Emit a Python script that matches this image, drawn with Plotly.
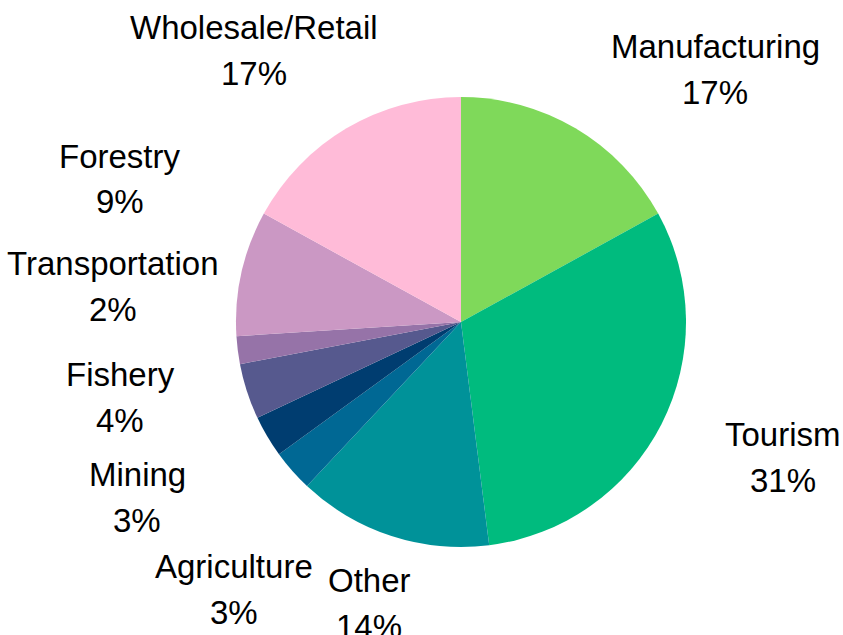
import plotly.graph_objects as go

# ---- data ----
sectors = ["Manufacturing", "Tourism", "Other", "Agriculture", "Mining",
           "Fishery", "Transportation", "Forestry", "Wholesale/Retail"]
shares = [17, 31, 14, 3, 3, 4, 2, 9, 17]
colors = ["#7fd95a", "#00bb7e", "#009299", "#006894", "#003d70",
          "#56598e", "#9673a8", "#cb98c4", "#ffbbd8"]

# ---- label placement (pixel centers of the two text lines) ----
W, H = 843, 635
label_pos = {
    "Manufacturing": (715, 46, 92),
    "Tourism": (783, 434, 480),
    "Other": (369, 580, 626),
    "Agriculture": (234, 566, 612),
    "Mining": (137, 474, 520),
    "Fishery": (120, 374, 420),
    "Transportation": (113, 263, 309),
    "Forestry": (120, 156, 202),
    "Wholesale/Retail": (254, 27, 74),
}

cx, cy, r = 461, 322, 225

fig = go.Figure(go.Pie(
    labels=sectors,
    values=shares,
    marker=dict(colors=colors, line=dict(width=0)),
    sort=False,
    direction="clockwise",
    rotation=0,
    textinfo="none",
    hoverinfo="label+percent",
    showlegend=False,
    domain=dict(x=[(cx - r) / W, (cx + r) / W],
                y=[1 - (cy + r) / H, 1 - (cy - r) / H]),
))

total = sum(shares)
font = dict(family="Liberation Sans, Arial, sans-serif", size=33, color="#000000")
annotations = []
for name, val in zip(sectors, shares):
    x, y1, y2 = label_pos[name]
    pct = f"{round(100 * val / total)}%"
    for txt, yy in ((name, y1), (pct, y2)):
        annotations.append(dict(
            text=txt, x=x / W, y=1 - yy / H, xref="paper", yref="paper",
            xanchor="center", yanchor="middle", showarrow=False, font=font,
        ))

fig.update_layout(
    width=W, height=H,
    margin=dict(l=0, r=0, t=0, b=0),
    paper_bgcolor="#ffffff",
    plot_bgcolor="#ffffff",
    annotations=annotations,
)

fig.write_html(
    "out.html",
    config={"displayModeBar": False},
    post_script="document.body.style.margin='0';document.body.style.padding='0';",
)
